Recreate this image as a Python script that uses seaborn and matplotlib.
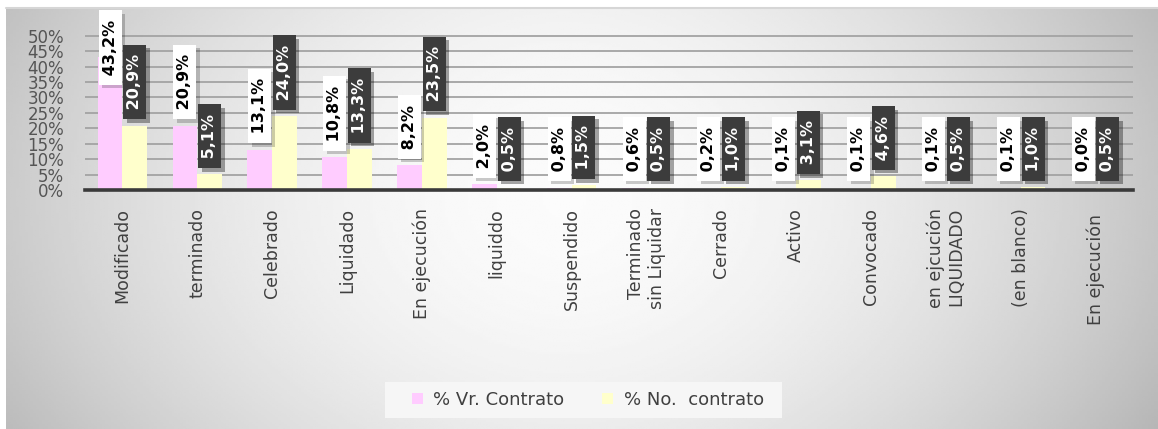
"""
Contratos por estado: % valor vs % numero de contratos
"""
import numpy as np
import pandas as pd
import matplotlib
matplotlib.use("Agg")
import matplotlib.pyplot as plt
import matplotlib.patheffects as pe
from matplotlib.patches import Rectangle
import seaborn as sns

ESTADOS = ["Modificado", "terminado", "Celebrado", "Liquidado", "En ejecución",
           "liquiddo", "Suspendido", "Terminado\nsin Liquidar", "Cerrado", "Activo",
           "Convocado", "en ejcución\nLIQUIDADO", "(en blanco)", "En ejecución "]
VR_CONTRATO = [43.2, 20.9, 13.1, 10.8, 8.2, 2.0, 0.8, 0.6, 0.2, 0.1, 0.1, 0.1, 0.1, 0.0]
NO_CONTRATO = [20.9, 5.1, 24.0, 13.3, 23.5, 0.5, 1.5, 0.5, 1.0, 3.1, 4.6, 0.5, 1.0, 0.5]
SERIES = ["% Vr. Contrato", "% No.  contrato"]
COLORES = ["#FFCCFF", "#FFFFCC"]

Y_TOP = 59
W, H = 1158, 429


def main():
    sns.set_style("white")
    plt.rcParams["font.family"] = ["DejaVu Sans"]

    df = pd.DataFrame({
        "estado": ESTADOS * 2,
        "serie": [SERIES[0]] * len(ESTADOS) + [SERIES[1]] * len(ESTADOS),
        "valor": VR_CONTRATO + NO_CONTRATO,
    })

    fig = plt.figure(figsize=(W / 100, H / 100), dpi=100, facecolor="white")

    # fondo con degradado
    bg = fig.add_axes([6 / W, 0, 1 - 6 / W, 1 - 8 / H])
    xx, yy = np.meshgrid(np.linspace(-1, 1, 400), np.linspace(-1, 1, 200))
    grad = 0.985 - 0.2 * np.abs(xx + 0.03) ** 1.8 - 0.05 * ((yy + 0.1) ** 2)
    bg.imshow(grad, cmap="gray", vmin=0, vmax=1, aspect="auto", extent=(0, 1, 0, 1))
    bg.axis("off")
    bg.set_zorder(-5)
    fig.add_artist(plt.Line2D([6 / W, 1], [1 - 7.5 / H] * 2, color="#d6d6d6", lw=1.5))

    ax = fig.add_axes([85 / W, (H - 190) / H, 1048 / W, 182 / H])
    ax.set_facecolor("none")
    sns.barplot(data=df, x="estado", y="valor", hue="serie", palette=COLORES,
                width=0.66, saturation=1, linewidth=0, ax=ax, zorder=2)

    ax.set_xlim(-0.5, len(ESTADOS) - 0.5)
    ax.set_ylim(0, Y_TOP)
    ticks = list(range(0, 55, 5))
    ax.set_yticks(ticks)
    ax.set_yticklabels([f"{t}%" for t in ticks], fontsize=12, color="#555555")
    ax.yaxis.grid(True, color="#a3a3a3", linewidth=1.3, zorder=0)
    ax.set_axisbelow(True)
    ax.tick_params(axis="y", length=0, pad=15)

    ax.set_xlabel("")
    ax.set_ylabel("")
    ax.set_xticks(range(len(ESTADOS)))
    ax.set_xticklabels(ESTADOS, rotation=90, fontsize=12.5, color="#404040",
                       va="top", ha="center", multialignment="right")
    ax.tick_params(axis="x", which="major", length=0, pad=13)
    ax.set_xticks(np.arange(-0.5, len(ESTADOS), 1), minor=True)
    ax.tick_params(axis="x", which="minor", length=6, width=2.2, color="#3a3a3a",
                   direction="out")
    for side in ["left", "right", "top"]:
        ax.spines[side].set_visible(False)
    ax.spines["bottom"].set_color("#3a3a3a")
    ax.spines["bottom"].set_linewidth(2.6)

    # etiquetas de datos
    pad = 0.25
    fs = 11.5
    label_h = 23
    for i, cont in enumerate(ax.containers):
        for bar in cont:
            v = bar.get_height()
            x = bar.get_x() + bar.get_width() / 2
            txt = " " + f"{v:.1f}".replace(".", ",") + "% "
            base = max(v + 2, 3)
            if base + label_h > Y_TOP:
                y, off, va = Y_TOP, -pad * fs - 1.5, "top"
            else:
                y, off, va = base, pad * fs, "bottom"
            if i == 0:
                fc, tc, a = "white", "black", 0.2
            else:
                fc, tc, a = "#3c3c3c", "white", 0.35
            t = ax.annotate(txt, xy=(x, y), xytext=(0, off), textcoords="offset points",
                            rotation=90, ha="center", va=va, fontsize=fs,
                            fontweight="bold", color=tc, zorder=5 + i,
                            bbox=dict(boxstyle=f"square,pad={pad}", fc=fc, ec="none"))
            t.get_bbox_patch().set_path_effects([
                pe.SimplePatchShadow(offset=(2.5, -2.5), shadow_rgbFace="black", alpha=a),
                pe.Normal()])

    # leyenda
    fig.add_artist(Rectangle((385 / W, 11 / H), 397 / W, 36 / H, transform=fig.transFigure,
                             facecolor="#f6f6f6", edgecolor="none", zorder=1))
    handles, labels = ax.get_legend_handles_labels()
    ax.get_legend().remove()
    leg = fig.legend(handles, labels, loc="center", bbox_to_anchor=(588 / W, 29 / H),
                     ncol=2, frameon=False, handlelength=0.6, handleheight=0.6,
                     handletextpad=0.6, columnspacing=2.1, borderpad=0.3,
                     borderaxespad=0, fontsize=13)
    leg.set_zorder(2)
    for text in leg.get_texts():
        text.set_color("#404040")

    fig.savefig("out.png", dpi=100)


if __name__ == "__main__":
    main()
